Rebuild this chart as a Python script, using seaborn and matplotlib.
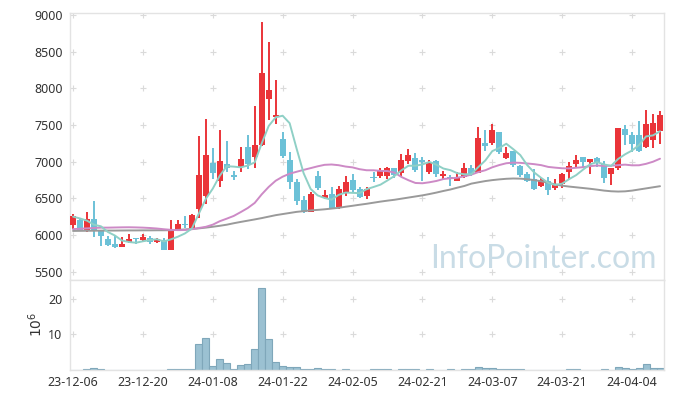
import numpy as np
import pandas as pd
import matplotlib
matplotlib.use('Agg')
import matplotlib.pyplot as plt
import seaborn as sns

# daily candles (price in KRW), index 0 = 23-12-06
opens = [6140, 6200, 6070, 6220, 6050, 5950, 5880, 5840, 5910, 5960,
         5930, 5960, 5910, 5930, 5790, 6080, 6150, 6090, 6360, 6530,
         6980, 6740, 6970, 6820, 6930, 7200, 7060, 7230, 7850, 7610,
         7310, 7020, 6720, 6480, 6320, 6800, 6500, 6560, 6380, 6570,
         6750, 6630, 6530, 6790, 6800, 6800, 6910, 6850, 7010, 7050,
         7020, 6860, 7010, 6800, 6790, 6740, 6790, 6920, 6850, 7250,
         7260, 7400, 7050, 7140, 6940, 6830, 6770, 6670, 6740, 6640,
         6700, 6860, 6970, 7060, 6990, 7050, 6970, 6830, 6910, 7450,
         7360, 7360, 7200, 7300, 7420]
highs = [6290, 6230, 6320, 6460, 6070, 5980, 5990, 5970, 6010, 5960,
         6010, 5990, 5960, 5960, 6210, 6200, 6260, 6290, 7350, 7580,
         7180, 7430, 7280, 6870, 7200, 7360, 7760, 8900, 8630, 8110,
         7400, 7130, 6770, 6530, 6590, 6870, 6620, 6660, 6670, 6800,
         6830, 6660, 6650, 6860, 6920, 6930, 6920, 7110, 7170, 7120,
         7070, 7020, 7020, 6870, 6820, 6860, 6980, 6950, 7470, 7430,
         7520, 7410, 7200, 7150, 6950, 6860, 6900, 6780, 6790, 6770,
         6840, 6990, 7090, 7060, 7040, 7070, 7010, 6920, 7460, 7500,
         7410, 7550, 7700, 7650, 7690]
lows = [6080, 6050, 6040, 5970, 5850, 5850, 5820, 5830, 5890, 5880,
        5910, 5880, 5890, 5800, 5790, 6050, 6100, 6090, 6230, 6420,
        6770, 6660, 6860, 6750, 6860, 6900, 6920, 7220, 7570, 7520,
        7050, 6630, 6410, 6300, 6310, 6610, 6490, 6350, 6360, 6530,
        6590, 6500, 6490, 6720, 6780, 6760, 6780, 6800, 6970, 6860,
        6740, 6830, 6790, 6770, 6670, 6730, 6780, 6810, 6840, 7150,
        7230, 7110, 7040, 6930, 6790, 6720, 6610, 6650, 6540, 6610,
        6640, 6770, 6930, 6930, 6830, 6930, 6710, 6680, 6880, 7230,
        7130, 7130, 7180, 7180, 7240]
closes = [6260, 6070, 6220, 6050, 5990, 5870, 5830, 5880, 5950, 5940,
          5970, 5910, 5940, 5800, 6080, 6150, 6130, 6270, 6820, 7090,
          6850, 7010, 6920, 6790, 7040, 6970, 7230, 8210, 7980, 7630,
          7080, 6720, 6470, 6310, 6560, 6640, 6540, 6360, 6630, 6720,
          6620, 6520, 6630, 6780, 6880, 6910, 6820, 7020, 7090, 6880,
          7000, 6990, 6830, 6830, 6770, 6790, 6920, 6830, 7320, 7220,
          7430, 7130, 7120, 6950, 6820, 6740, 6630, 6750, 6610, 6680,
          6830, 6940, 7020, 6990, 7040, 6980, 6780, 6920, 7460, 7360,
          7240, 7150, 7510, 7530, 7640]
# volume in millions of shares
volume = [0, 0, 0.1, 0.5, 0.2, 0, 0, 0, 0, 0,
          0, 0, 0, 0, 0.1, 0.15, 0.15, 0.15, 7.1, 9.0,
          1.0, 3.0, 1.8, 0.15, 1.25, 1.6, 5.9, 23.2, 8.75, 2.2,
          1.0, 0.7, 0.7, 0.1, 0.1, 0.4, 0.1, 0.1, 0, 0.1,
          0, 0, 0, 0.1, 0.1, 0.1, 0, 0.1, 0.1, 0.1,
          0, 0.1, 0, 0, 0.1, 0, 0.1, 0.1, 0.8, 0.5,
          0.5, 0.15, 0.15, 0.15, 0.15, 0, 0, 0, 0, 0,
          0, 0.1, 0.1, 0, 0, 0, 0.1, 0, 0.8, 0.5,
          0.2, 0.5, 1.6, 0.5, 0.5]
# moving averages before enough history is on screen
ma5_head = [6250, 6225, 6195, 6140]
ma20_head = [6080, 6085, 6090, 6095, 6100, 6100, 6102, 6104, 6105, 6103,
             6100, 6095, 6088, 6078, 6070, 6066, 6068, 6078, 6095]
ma_long = [6055, 6056, 6057, 6058, 6059, 6060, 6060, 6061, 6062, 6062,
           6063, 6063, 6064, 6064, 6065, 6070, 6075, 6082, 6090, 6100,
           6112, 6125, 6140, 6160, 6178, 6195, 6212, 6230, 6250, 6270,
           6285, 6300, 6315, 6325, 6335, 6342, 6350, 6360, 6370, 6385,
           6398, 6412, 6425, 6440, 6455, 6468, 6480, 6495, 6510, 6525,
           6540, 6558, 6578, 6600, 6620, 6645, 6668, 6700, 6718, 6735,
           6748, 6758, 6766, 6770, 6768, 6760, 6748, 6732, 6712, 6690,
           6672, 6660, 6650, 6640, 6630, 6618, 6605, 6596, 6592, 6595,
           6605, 6620, 6635, 6650, 6665]
tick_labels = ['23-12-06', '23-12-20', '24-01-08', '24-01-22', '24-02-05',
               '24-02-21', '24-03-07', '24-03-21', '24-04-04']
price_ticks = [5500, 6000, 6500, 7000, 7500, 8000, 8500, 9000]
vol_ticks = [10, 20]

RED = '#ea3439'
BLUE = '#6cc1d7'

df = pd.DataFrame({'open': opens, 'high': highs, 'low': lows,
                   'close': closes, 'volume': volume})
df['x'] = np.arange(len(df))
ma5 = df['close'].rolling(5).mean().to_numpy()
ma5[:len(ma5_head)] = ma5_head
ma20 = df['close'].rolling(20).mean().to_numpy()
ma20[:len(ma20_head)] = ma20_head
df['ma5'] = ma5
df['ma20'] = ma20
df['ma_long'] = ma_long

sns.set_style('white')
plt.rcParams['font.family'] = ['Noto Sans', 'DejaVu Sans']

fig = plt.figure(figsize=(6.73, 3.98), dpi=100)
ax = fig.add_axes([0.1033, 0.2965, 0.8826, 0.6716])
axv = fig.add_axes([0.1033, 0.0716, 0.8826, 0.2249], sharex=ax)

tick_pos = np.arange(len(tick_labels)) * 10

# grid crosses
gx, gy = np.meshgrid(tick_pos, price_ticks)
ax.scatter(gx.ravel(), gy.ravel(), marker='+', s=22, color='#dadada', lw=0.8, zorder=0)
gx, gy = np.meshgrid(tick_pos, vol_ticks)
axv.scatter(gx.ravel(), gy.ravel(), marker='+', s=22, color='#dadada', lw=0.8, zorder=0)

# candles
up = df['close'] >= df['open']
cols = np.where(up, RED, BLUE)
ax.vlines(df['x'], df['low'], df['high'], colors=cols, lw=1.4, zorder=2)
body_lo = np.minimum(df['open'], df['close'])
body_h = np.maximum((df['close'] - df['open']).abs(), 16)
ax.bar(df['x'], body_h, bottom=body_lo, width=0.86, color=cols, lw=0, zorder=3)

sns.lineplot(data=df, x='x', y='ma_long', ax=ax, color='#9a9a9a', lw=1.4, zorder=4)
sns.lineplot(data=df, x='x', y='ma20', ax=ax, color='#cd8ac6', lw=1.4, zorder=4)
sns.lineplot(data=df, x='x', y='ma5', ax=ax, color='#8fd0c6', lw=1.4, zorder=4)

ax.text(0.988, 0.045, 'InfoPointer.com', transform=ax.transAxes, ha='right',
        va='baseline', fontsize=23, family=['Lato', 'DejaVu Sans'],
        color='#c9dce6', zorder=1)

ax.set_xlim(-0.5, len(df) - 0.5)
ax.set_ylim(5386, 9031)
ax.set_yticks(price_ticks)
ax.set_xlabel('')
ax.set_ylabel('')
ax.tick_params(axis='x', labelbottom=False, length=0)
ax.tick_params(axis='y', length=0, labelsize=9, labelcolor='#333333', pad=5)

# volume
sns.barplot(data=df, x='x', y='volume', ax=axv, native_scale=True, width=1,
            color='#9bc1d2', edgecolor='#7fa7ba', linewidth=0.8, saturation=1)
axv.set_xlim(-0.5, len(df) - 0.5)
axv.set_ylim(0, 25.4)
axv.set_yticks(vol_ticks)
axv.set_xticks(tick_pos)
axv.set_xticklabels(tick_labels)
axv.set_xlabel('')
axv.set_ylabel('$10^6$', fontsize=10, color='#333333', labelpad=2)
axv.tick_params(length=0, labelsize=9, labelcolor='#333333', pad=5)

for a in (ax, axv):
    for s in a.spines.values():
        s.set_color('#e3e3e3')
        s.set_linewidth(1)

fig.savefig('out.png', dpi=100)
